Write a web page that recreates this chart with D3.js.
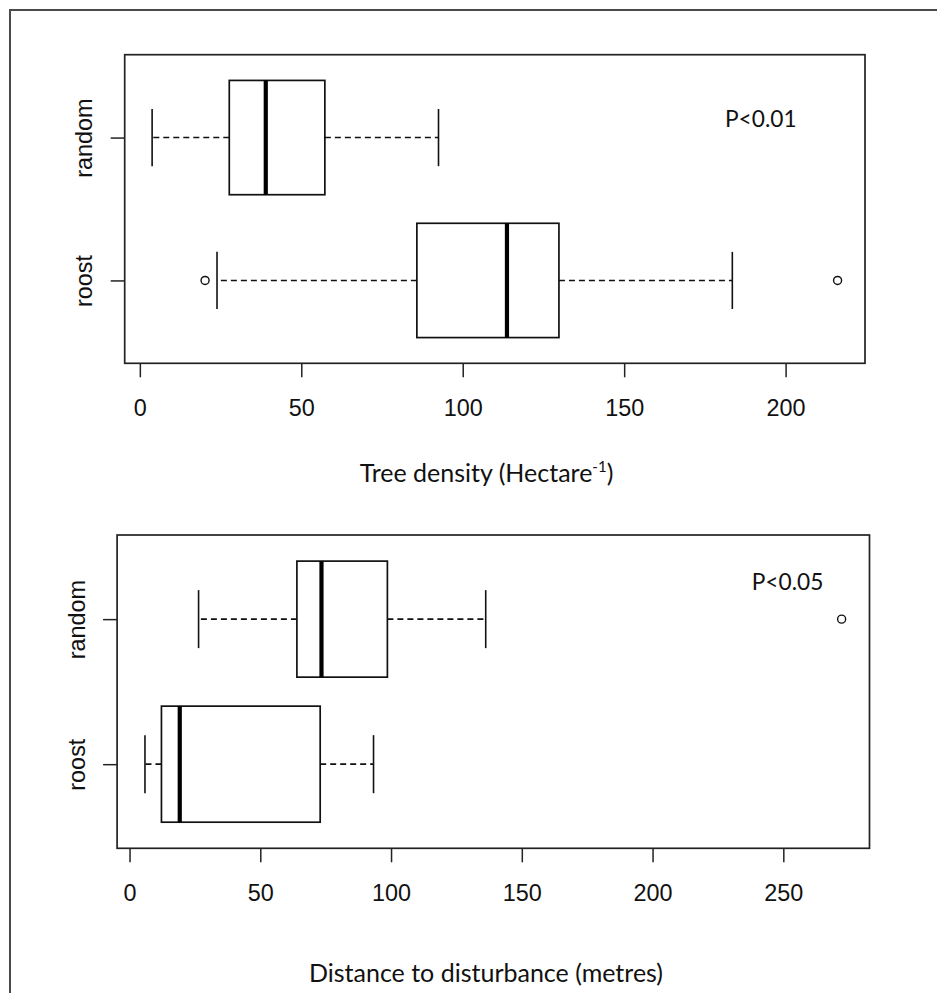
<!DOCTYPE html>
<html>
<head>
<meta charset="utf-8">
<script src="https://cdn.jsdelivr.net/npm/d3@7"></script>
<style>
  body { margin: 0; background: #fff; }
  svg { display: block; }
  .tick text { font-family: "Liberation Sans", Arial, sans-serif; fill: #111; }
  .note { font-family: Lato, "Open Sans", sans-serif; fill: #111; }
</style>
</head>
<body>
<svg id="chart" width="937" height="993"></svg>
<script>
// groups, bottom to top as R draws them
const categories = ["roost", "random"];

// five number summaries: lower whisker, Q1, median, Q3, upper whisker
const densityStats = [
  [23.9, 85.8, 113.7, 129.8, 183.5],
  [3.8, 27.7, 39.0, 57.3, 92.5]
];
const densityOutliers = [[20.2, 216.1], []];
const densityTicks = [0, 50, 100, 150, 200];

const distanceStats = [
  [5.9, 12.2, 19.2, 72.9, 93.3],
  [26.4, 64.0, 73.4, 98.6, 136.2]
];
const distanceOutliers = [[], [272.3]];
const distanceTicks = [0, 50, 100, 150, 200, 250];

const pLabels = ["P<0.01", "P<0.05"];

const svg = d3.select("#chart");

// frame round the whole figure (runs off the right and bottom edges)
svg.append("rect")
  .attr("x", 10).attr("y", 10)
  .attr("width", 940).attr("height", 1000)
  .attr("fill", "none")
  .attr("stroke", "#4a4a4a")
  .attr("stroke-width", 2);

function drawPanel(opts) {
  const { left, right, top, bottom, stats, outliers, ticks } = opts;

  // R style range: data extent padded by 4%
  const all = d3.merge(stats.concat(outliers));
  const lo = d3.min(all), hi = d3.max(all);
  const pad = (hi - lo) * 0.04;

  const x = d3.scaleLinear()
    .domain([lo - pad, hi + pad])
    .range([left, right]);

  const y = d3.scaleLinear()
    .domain([0.42, 2.58])
    .range([bottom, top]);

  const g = svg.append("g");

  const xAxis = d3.axisBottom(x).tickValues(ticks).tickSize(14).tickPadding(22);
  g.append("g")
    .attr("transform", "translate(0," + bottom + ")")
    .call(xAxis)
    .call(a => a.select(".domain").remove())
    .call(a => a.selectAll(".tick line").attr("stroke", "#222").attr("stroke-width", 1.5))
    .call(a => a.selectAll(".tick text").attr("font-size", 23.4).attr("dy", "0.71em"));

  const yAxis = d3.axisLeft(y).tickValues([1, 2])
    .tickFormat((d, i) => categories[i]).tickSize(14);
  g.append("g")
    .attr("transform", "translate(" + left + ",0)")
    .call(yAxis)
    .call(a => a.select(".domain").remove())
    .call(a => a.selectAll(".tick line").attr("stroke", "#222").attr("stroke-width", 1.5))
    .call(a => a.selectAll(".tick text")
      .attr("font-size", 23.4)
      .attr("x", null).attr("dy", null)
      .attr("text-anchor", "middle")
      .attr("transform", "translate(-32.5,0) rotate(-90)"));

  const box = g.selectAll(".box")
    .data(stats)
    .enter().append("g")
    .attr("class", "box");

  const half = 0.4, stapleHalf = 0.2;

  // whiskers
  box.append("line")
    .attr("x1", d => x(d[1])).attr("x2", d => x(d[0]))
    .attr("y1", (d, i) => y(i + 1)).attr("y2", (d, i) => y(i + 1))
    .attr("stroke", "#111").attr("stroke-width", 1.6)
    .attr("stroke-dasharray", "6,4");
  box.append("line")
    .attr("x1", d => x(d[3])).attr("x2", d => x(d[4]))
    .attr("y1", (d, i) => y(i + 1)).attr("y2", (d, i) => y(i + 1))
    .attr("stroke", "#111").attr("stroke-width", 1.6)
    .attr("stroke-dasharray", "6,4");

  // staples
  [0, 4].forEach(k => {
    box.append("line")
      .attr("x1", d => x(d[k])).attr("x2", d => x(d[k]))
      .attr("y1", (d, i) => y(i + 1 - stapleHalf)).attr("y2", (d, i) => y(i + 1 + stapleHalf))
      .attr("stroke", "#111").attr("stroke-width", 1.6);
  });

  box.append("rect")
    .attr("x", d => x(d[1]))
    .attr("width", d => x(d[3]) - x(d[1]))
    .attr("y", (d, i) => y(i + 1 + half))
    .attr("height", (d, i) => y(i + 1 - half) - y(i + 1 + half))
    .attr("fill", "#fff")
    .attr("stroke", "#111").attr("stroke-width", 1.7);

  box.append("line")
    .attr("x1", d => x(d[2])).attr("x2", d => x(d[2]))
    .attr("y1", (d, i) => y(i + 1 - half)).attr("y2", (d, i) => y(i + 1 + half))
    .attr("stroke", "#000").attr("stroke-width", 4.2);

  outliers.forEach((pts, i) => {
    g.selectAll(null)
      .data(pts)
      .enter().append("circle")
      .attr("cx", d => x(d))
      .attr("cy", y(i + 1))
      .attr("r", 4)
      .attr("fill", "none")
      .attr("stroke", "#111").attr("stroke-width", 1.4);
  });

  // plot frame
  g.append("rect")
    .attr("x", left).attr("y", top)
    .attr("width", right - left).attr("height", bottom - top)
    .attr("fill", "none")
    .attr("stroke", "#222").attr("stroke-width", 1.7);

  return g;
}

const top1 = drawPanel({
  left: 124.7, right: 865, top: 54.7, bottom: 363.3,
  stats: densityStats, outliers: densityOutliers, ticks: densityTicks
});
const top2 = drawPanel({
  left: 117.1, right: 869.5, top: 535, bottom: 848.3,
  stats: distanceStats, outliers: distanceOutliers, ticks: distanceTicks
});

top1.append("text").attr("class", "note")
  .attr("x", 725).attr("y", 126.7)
  .attr("font-size", 22.7)
  .text(pLabels[0]);
top2.append("text").attr("class", "note")
  .attr("x", 751.7).attr("y", 590)
  .attr("font-size", 22.7)
  .text(pLabels[1]);

const t1 = svg.append("text").attr("class", "note")
  .attr("x", 486.5).attr("y", 482)
  .attr("text-anchor", "middle")
  .attr("font-size", 25);
t1.append("tspan").text("Tree density (Hectare");
t1.append("tspan").attr("font-size", 15).attr("dy", -10).text("-1");
t1.append("tspan").attr("dy", 10).text(")");

svg.append("text").attr("class", "note")
  .attr("x", 486).attr("y", 982)
  .attr("text-anchor", "middle")
  .attr("font-size", 25)
  .text("Distance to disturbance (metres)");
</script>
</body>
</html>
